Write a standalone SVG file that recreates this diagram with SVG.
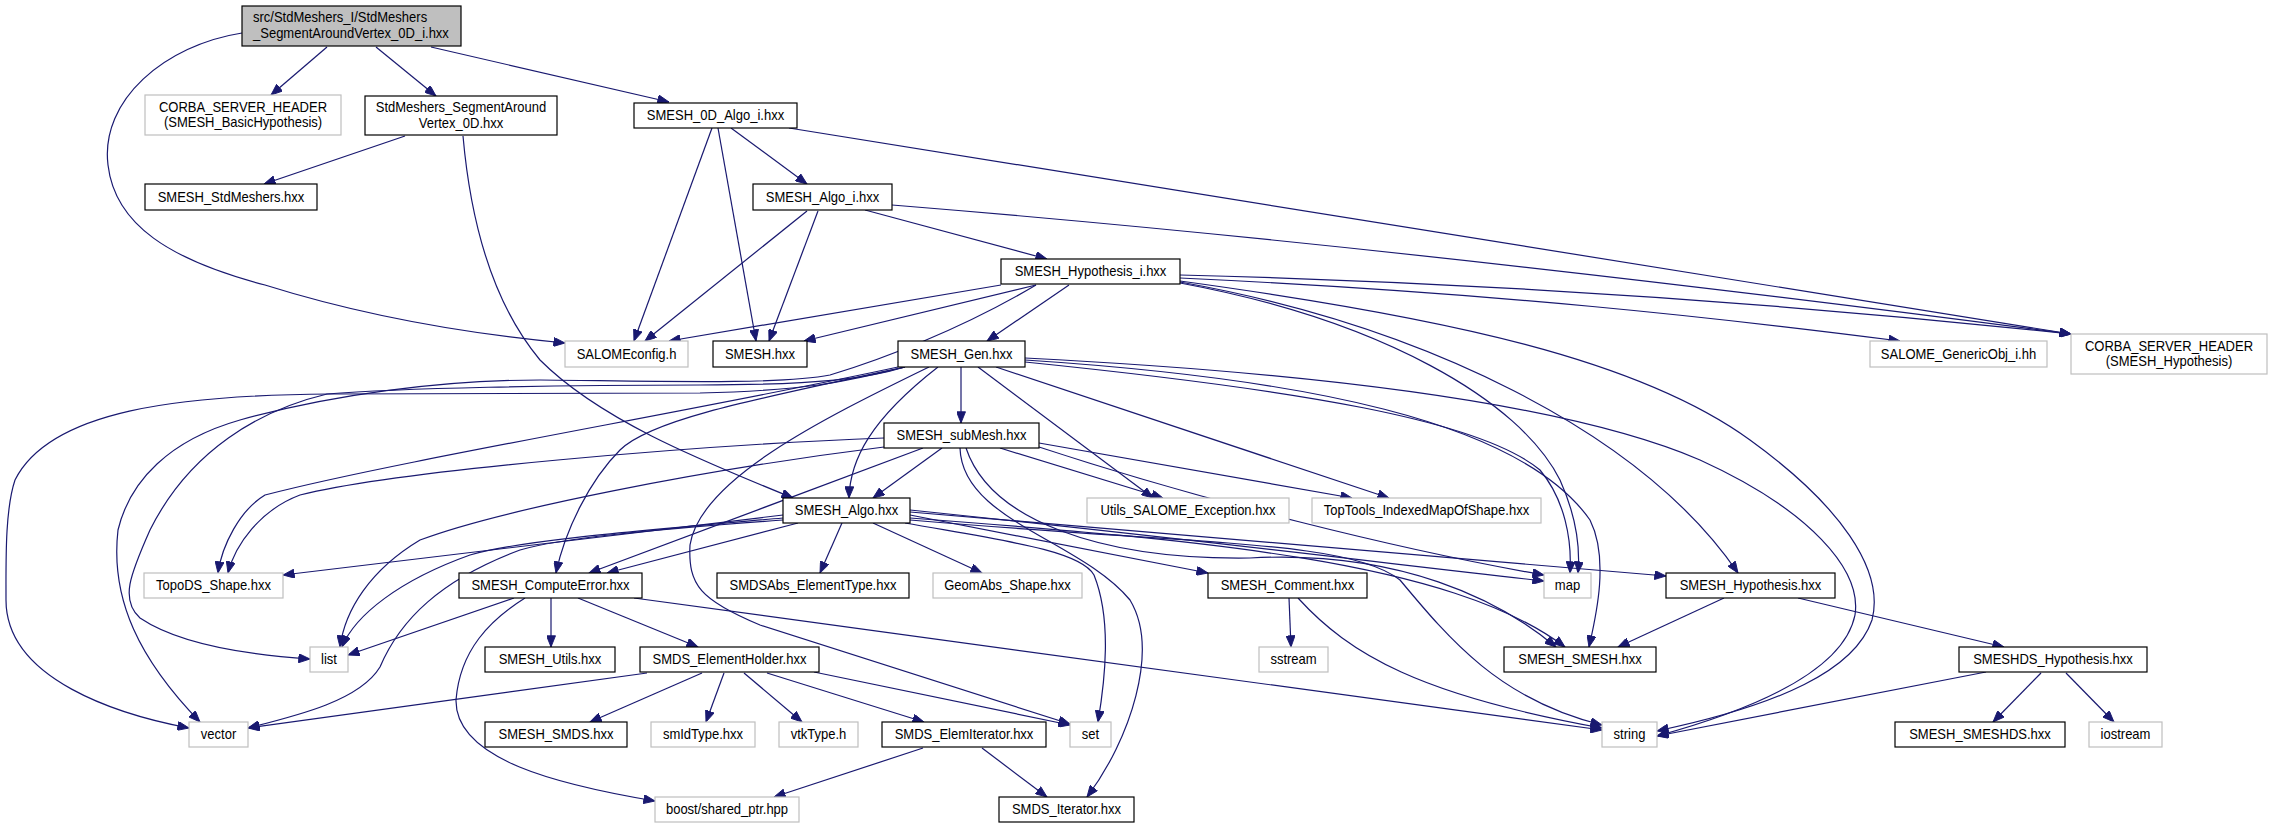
<svg xmlns="http://www.w3.org/2000/svg" width="2273" height="828" viewBox="0 0 2273 828">
<style>
.n rect{fill:#fff;stroke:#000;stroke-width:1.2}
.g rect{fill:#fff;stroke:#bfbfbf;stroke-width:1.2}
.r rect{fill:#bfbfbf;stroke:#000;stroke-width:1.2}
text{font-family:"Liberation Sans",Arial,Helvetica,sans-serif;font-size:14px;fill:#000;text-anchor:middle}
#edges path{fill:none;stroke:#191970;stroke-width:1.2;marker-end:url(#a)}
</style>
<defs>
<marker id="a" viewBox="0 0 10 8" refX="10" refY="4" markerWidth="12" markerHeight="9" markerUnits="userSpaceOnUse" orient="auto"><path d="M0,0L10,4L0,8z" fill="#191970" stroke="#191970" stroke-width="0.8"/></marker>
</defs>
<rect width="2273" height="828" fill="#fff"/>
<g id="edges">
<path d="M242,33 C165,45 100,100 108,165 C115,225 170,260 265,285 C370,318 470,334 565,343"/>
<path d="M327,47 L271,95"/>
<path d="M376,47 L436,96"/>
<path d="M431,47 L669,102"/>
<path d="M405,136 L264,184"/>
<path d="M463,136 C470,215 490,300 540,360 C600,420 700,460 793,498"/>
<path d="M712,128 L634,341"/>
<path d="M718,128 L756,341"/>
<path d="M731,128 L807,184"/>
<path d="M789,128 L2071,334"/>
<path d="M807,211 L645,341"/>
<path d="M818,211 L769,341"/>
<path d="M865,210 L1047,259"/>
<path d="M892,205 C1300,238 1750,292 2071,334"/>
<path d="M1001,285 L669,341"/>
<path d="M1036,285 L804,341"/>
<path d="M1069,285 L987,341"/>
<path d="M1180,275 C1500,283 1800,305 2071,334"/>
<path d="M1180,278 C1500,293 1720,318 1900,341"/>
<path d="M1180,282 C1420,325 1640,430 1738,573"/>
<path d="M1180,283 C1380,320 1520,400 1560,480 C1578,520 1580,550 1578,573"/>
<path d="M1180,281 C1450,318 1640,360 1750,440 C1840,505 1885,570 1872,620 C1855,670 1780,705 1657,731"/>
<path d="M1036,285 C960,330 880,360 830,375 C780,385 650,381 540,380 C440,380 330,395 240,420 C170,440 130,480 118,530 C110,600 140,660 200,722"/>
<path d="M961,367 L961,423"/>
<path d="M938,367 C870,420 850,460 849,498"/>
<path d="M905,367 C750,400 650,420 620,450 C590,480 565,530 556,573"/>
<path d="M929,367 C820,420 700,480 690,545 C688,585 700,600 760,625 L1070,724"/>
<path d="M898,367 C700,410 400,460 265,495 C240,510 222,545 218,573"/>
<path d="M905,367 C850,380 820,390 700,393 L330,394 C180,395 50,410 15,480 C5,510 6,560 6,600 C6,680 120,715 189,728"/>
<path d="M905,367 C870,378 820,385 700,385 C560,385 400,388 327,394 C260,410 190,450 150,530 C130,575 120,600 140,618 C180,645 250,655 310,659"/>
<path d="M978,367 L1153,498"/>
<path d="M996,367 L1389,498"/>
<path d="M1025,362 C1300,390 1480,420 1540,470 C1565,500 1572,540 1570,573"/>
<path d="M1025,360 C1300,378 1520,420 1590,520 C1610,560 1595,620 1589,647"/>
<path d="M1025,358 C1300,372 1560,400 1700,460 C1810,510 1862,570 1855,615 C1845,665 1770,705 1657,736"/>
<path d="M942,448 L873,498"/>
<path d="M884,438 C700,445 400,470 300,495 C260,510 235,545 228,573"/>
<path d="M884,447 C700,470 500,510 420,540 C370,570 345,610 340,647"/>
<path d="M923,448 L589,573"/>
<path d="M1000,448 L1163,498"/>
<path d="M1039,443 L1352,498"/>
<path d="M1039,447 C1200,500 1400,550 1544,575"/>
<path d="M966,448 C990,520 1100,560 1250,558 C1400,550 1500,600 1556,647"/>
<path d="M960,448 C962,520 1080,540 1130,600 C1160,650 1130,740 1087,797"/>
<path d="M783,515 L283,575"/>
<path d="M798,523 L607,573"/>
<path d="M783,518 C650,530 520,540 470,555 C400,580 355,615 342,647"/>
<path d="M783,520 C650,530 560,538 520,550 C440,580 400,620 380,667 C360,700 300,715 248,728"/>
<path d="M842,523 L820,573"/>
<path d="M873,523 L982,573"/>
<path d="M905,523 C1000,540 1080,550 1094,575 C1112,620 1105,680 1098,722"/>
<path d="M910,515 L1208,573"/>
<path d="M910,510 C1200,540 1400,565 1544,581"/>
<path d="M910,512 L1666,576"/>
<path d="M910,518 C1200,540 1450,560 1565,647"/>
<path d="M910,520 C1200,545 1350,540 1400,580 C1450,640 1500,700 1602,725"/>
<path d="M514,598 L348,655"/>
<path d="M551,598 L551,647"/>
<path d="M578,598 L698,647"/>
<path d="M525,598 C490,620 460,650 456,700 C455,760 560,785 655,801"/>
<path d="M634,598 L1602,730"/>
<path d="M647,673 L248,728"/>
<path d="M702,673 L590,722"/>
<path d="M724,673 L706,722"/>
<path d="M744,673 L802,722"/>
<path d="M767,673 L924,722"/>
<path d="M814,672 L1070,725"/>
<path d="M923,748 L774,797"/>
<path d="M982,748 L1047,797"/>
<path d="M1289,598 L1291,647"/>
<path d="M1298,598 C1350,655 1420,695 1602,728"/>
<path d="M1724,598 L1618,647"/>
<path d="M1798,598 L2004,647"/>
<path d="M2041,673 L1993,722"/>
<path d="M2066,673 L2114,722"/>
<path d="M1986,672 L1657,736"/>
</g>
<g id="root" class="r"><rect x="242" y="6" width="219" height="40"/><text transform="translate(253,22) scale(0.93,1)" style="text-anchor:start">src/StdMeshers_I/StdMeshers</text><text transform="translate(253,37.5) scale(0.93,1)" style="text-anchor:start">_SegmentAroundVertex_0D_i.hxx</text></g>
<g id="cbh" class="g"><rect x="145" y="95" width="196" height="40"/><text transform="translate(243,111.5) scale(0.93,1)">CORBA_SERVER_HEADER</text><text transform="translate(243,127) scale(0.93,1)">(SMESH_BasicHypothesis)</text></g>
<g id="sav" class="n"><rect x="365" y="96" width="192" height="39"/><text transform="translate(461,112) scale(0.93,1)">StdMeshers_SegmentAround</text><text transform="translate(461,127.5) scale(0.93,1)">Vertex_0D.hxx</text></g>
<g id="ssm" class="n"><rect x="145" y="184" width="172" height="26"/><text transform="translate(231,201.5) scale(0.93,1)">SMESH_StdMeshers.hxx</text></g>
<g id="d0a" class="n"><rect x="634" y="103" width="163" height="25"/><text transform="translate(715.5,120) scale(0.93,1)">SMESH_0D_Algo_i.hxx</text></g>
<g id="ai" class="n"><rect x="753" y="184" width="139" height="26"/><text transform="translate(822.5,201.5) scale(0.93,1)">SMESH_Algo_i.hxx</text></g>
<g id="hi" class="n"><rect x="1001" y="259" width="179" height="25"/><text transform="translate(1090.5,276) scale(0.93,1)">SMESH_Hypothesis_i.hxx</text></g>
<g id="sch" class="g"><rect x="565" y="341" width="123" height="26"/><text transform="translate(626.5,358.5) scale(0.93,1)">SALOMEconfig.h</text></g>
<g id="smh" class="n"><rect x="713" y="341" width="94" height="26"/><text transform="translate(760,358.5) scale(0.93,1)">SMESH.hxx</text></g>
<g id="gen" class="n"><rect x="898" y="341" width="127" height="26"/><text transform="translate(961.5,358.5) scale(0.93,1)">SMESH_Gen.hxx</text></g>
<g id="gob" class="g"><rect x="1870" y="341" width="177" height="26"/><text transform="translate(1958.5,358.5) scale(0.93,1)">SALOME_GenericObj_i.hh</text></g>
<g id="chy" class="g"><rect x="2071" y="334" width="196" height="40"/><text transform="translate(2169,350.5) scale(0.93,1)">CORBA_SERVER_HEADER</text><text transform="translate(2169,366) scale(0.93,1)">(SMESH_Hypothesis)</text></g>
<g id="sub" class="n"><rect x="884" y="423" width="155" height="25"/><text transform="translate(961.5,440) scale(0.93,1)">SMESH_subMesh.hxx</text></g>
<g id="alg" class="n"><rect x="783" y="498" width="127" height="25"/><text transform="translate(846.5,515) scale(0.93,1)">SMESH_Algo.hxx</text></g>
<g id="utl" class="g"><rect x="1087" y="498" width="202" height="25"/><text transform="translate(1188,515) scale(0.93,1)">Utils_SALOME_Exception.hxx</text></g>
<g id="ttm" class="g"><rect x="1312" y="498" width="229" height="25"/><text transform="translate(1426.5,515) scale(0.93,1)">TopTools_IndexedMapOfShape.hxx</text></g>
<g id="tds" class="g"><rect x="144" y="573" width="139" height="25"/><text transform="translate(213.5,590) scale(0.93,1)">TopoDS_Shape.hxx</text></g>
<g id="cer" class="n"><rect x="459" y="573" width="183" height="25"/><text transform="translate(550.5,590) scale(0.93,1)">SMESH_ComputeError.hxx</text></g>
<g id="sae" class="n"><rect x="717" y="573" width="192" height="25"/><text transform="translate(813,590) scale(0.93,1)">SMDSAbs_ElementType.hxx</text></g>
<g id="gas" class="g"><rect x="933" y="573" width="149" height="25"/><text transform="translate(1007.5,590) scale(0.93,1)">GeomAbs_Shape.hxx</text></g>
<g id="cmt" class="n"><rect x="1208" y="573" width="159" height="25"/><text transform="translate(1287.5,590) scale(0.93,1)">SMESH_Comment.hxx</text></g>
<g id="map" class="g"><rect x="1544" y="573" width="47" height="25"/><text transform="translate(1567.5,590) scale(0.93,1)">map</text></g>
<g id="hyp" class="n"><rect x="1666" y="573" width="169" height="25"/><text transform="translate(1750.5,590) scale(0.93,1)">SMESH_Hypothesis.hxx</text></g>
<g id="lst" class="g"><rect x="310" y="647" width="38" height="25"/><text transform="translate(329,664) scale(0.93,1)">list</text></g>
<g id="uti" class="n"><rect x="485" y="647" width="130" height="25"/><text transform="translate(550,664) scale(0.93,1)">SMESH_Utils.hxx</text></g>
<g id="eh" class="n"><rect x="640" y="647" width="179" height="25"/><text transform="translate(729.5,664) scale(0.93,1)">SMDS_ElementHolder.hxx</text></g>
<g id="sst" class="g"><rect x="1259" y="647" width="69" height="25"/><text transform="translate(1293.5,664) scale(0.93,1)">sstream</text></g>
<g id="ssh" class="n"><rect x="1504" y="647" width="152" height="25"/><text transform="translate(1580,664) scale(0.93,1)">SMESH_SMESH.hxx</text></g>
<g id="dhy" class="n"><rect x="1959" y="647" width="188" height="25"/><text transform="translate(2053,664) scale(0.93,1)">SMESHDS_Hypothesis.hxx</text></g>
<g id="vec" class="g"><rect x="189" y="722" width="59" height="25"/><text transform="translate(218.5,739) scale(0.93,1)">vector</text></g>
<g id="smd" class="n"><rect x="485" y="722" width="142" height="25"/><text transform="translate(556,739) scale(0.93,1)">SMESH_SMDS.hxx</text></g>
<g id="sid" class="g"><rect x="651" y="722" width="104" height="25"/><text transform="translate(703,739) scale(0.93,1)">smIdType.hxx</text></g>
<g id="vtk" class="g"><rect x="779" y="722" width="79" height="25"/><text transform="translate(818.5,739) scale(0.93,1)">vtkType.h</text></g>
<g id="eit" class="n"><rect x="882" y="722" width="164" height="25"/><text transform="translate(964,739) scale(0.93,1)">SMDS_ElemIterator.hxx</text></g>
<g id="set" class="g"><rect x="1070" y="722" width="41" height="25"/><text transform="translate(1090.5,739) scale(0.93,1)">set</text></g>
<g id="str" class="g"><rect x="1602" y="722" width="55" height="25"/><text transform="translate(1629.5,739) scale(0.93,1)">string</text></g>
<g id="sds" class="n"><rect x="1895" y="722" width="170" height="25"/><text transform="translate(1980,739) scale(0.93,1)">SMESH_SMESHDS.hxx</text></g>
<g id="ios" class="g"><rect x="2089" y="722" width="73" height="25"/><text transform="translate(2125.5,739) scale(0.93,1)">iostream</text></g>
<g id="bsp" class="g"><rect x="655" y="797" width="144" height="25"/><text transform="translate(727,814) scale(0.93,1)">boost/shared_ptr.hpp</text></g>
<g id="sit" class="n"><rect x="999" y="797" width="135" height="25"/><text transform="translate(1066.5,814) scale(0.93,1)">SMDS_Iterator.hxx</text></g>
</svg>
